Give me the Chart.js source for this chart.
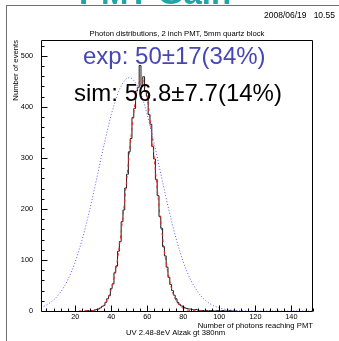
<!DOCTYPE html>
<html>
<head>
<meta charset="utf-8">
<title>Photon distributions</title>
<script src="https://cdn.jsdelivr.net/npm/chart.js@4.4.0/dist/chart.umd.min.js"></script>
<style>
  html, body { margin: 0; padding: 0; background: #fff; }
  canvas { display: block; }
</style>
</head>
<body>
<canvas id="chart" width="339" height="341"></canvas>
<script>
// Simulated photon counts, one bin per photon number
const binCenters = [25, 26, 27, 28, 29, 30, 31, 32, 33, 34, 35, 36, 37, 38, 39, 40, 41, 42, 43, 44,
  45, 46, 47, 48, 49, 50, 51, 52, 53, 54, 55, 56, 57, 58, 59, 60, 61, 62, 63, 64,
  65, 66, 67, 68, 69, 70, 71, 72, 73, 74, 75, 76, 77, 78, 79, 80, 81, 82, 83, 84,
  85, 86, 87, 88, 89, 90, 91, 92, 93, 94, 95, 96, 97, 98, 99, 100, 101, 102, 103, 104,
  105, 106, 107, 108, 109, 110];
const binCounts = [0, 0, 1, 0, 1, 1, 2, 3, 4, 6, 9, 11, 17, 24, 30, 44, 53, 75, 88, 117,
  136, 175, 198, 241, 268, 312, 338, 379, 397, 431, 438, 481, 441, 459, 430, 421, 385, 366, 322, 298,
  258, 226, 185, 162, 126, 108, 86, 66, 52, 40, 31, 24, 17, 13, 10, 8, 6, 5, 4, 4,
  3, 2, 3, 2, 1, 1, 1, 0, 1, 0, 1, 1, 0, 0, 1, 0, 0, 1, 0, 0,
  0, 1, 0, 0, 0, 0];

// Gaussian fit to the simulation (56.8 ± 7.7)
const fitX = [22, 24, 26, 28, 29, 30, 31, 32, 33, 34, 35, 36, 37, 38, 39, 40, 41, 42, 43, 44,
  45, 46, 47, 48, 49, 50, 51, 52, 53, 54, 55, 56, 57, 58, 59, 60, 61, 62, 63, 64,
  65, 66, 67, 68, 69, 70, 71, 72, 73, 74, 75, 76, 77, 78, 79, 80, 81, 82, 83, 84,
  86, 88, 90, 92];
const fitY = [0, 0.05, 0.15, 0.42, 0.67, 1.1, 1.7, 2.5, 3.8, 5.7, 8.3, 11.8, 16.7, 23.1, 31.5, 42.1, 55.4, 71.7, 91.3, 114.3,
  140.6, 170.2, 202.4, 236.8, 272.4, 308.1, 342.6, 374.6, 402.8, 425.9, 442.8, 452.6, 454.9, 449.5, 436.8, 417.4, 392.1, 362.2, 329.1, 293.9,
  258.1, 222.9, 189.2, 158.0, 129.7, 104.7, 83.1, 64.8, 49.8, 37.6, 27.9, 20.3, 14.6, 10.3, 7.1, 4.9, 3.3, 2.1, 1.4, 0.9,
  0.35, 0.12, 0.04, 0.01];

// Measured distribution (50 ± 17)
const expX = [1, 4, 8, 12, 16, 20, 24, 28, 32, 36, 40, 44, 48, 50, 52, 56, 60, 64, 68, 72,
  76, 80, 84, 88, 92, 96, 100, 104, 108, 112, 116, 120, 130, 140, 152];
const expY = [7.2, 11.8, 21.6, 37.6, 61.8, 96.3, 141.9, 197.8, 260.9, 325.6, 384.4, 429.4, 453.9, 457, 453.9, 429.4, 384.4, 325.6, 260.9, 197.8,
  141.9, 96.3, 61.8, 37.6, 21.6, 11.8, 6.0, 2.9, 1.4, 0.6, 0.24, 0.1, 0, 0, 0];

const xTickLabels = [20, 40, 60, 80, 100, 120, 140];
const yTickLabels = [0, 100, 200, 300, 400, 500];
const xMinorStep = 4;
const yMinorStep = 20;

const FONT = '"Liberation Sans", Arial, Helvetica, sans-serif';

const pairs = (xs, ys) => xs.map((v, i) => ({ x: v, y: ys[i] }));

const decorations = {
  id: 'decorations',
  beforeDraw(chart) {
    const ctx = chart.ctx;
    ctx.save();
    ctx.fillStyle = '#ffffff';
    ctx.fillRect(0, 0, chart.width, chart.height);
    ctx.restore();
  },
  afterDraw(chart) {
    const { ctx, chartArea: a, scales: { x, y } } = chart;
    ctx.save();

    // slide heading, mostly above the canvas edge
    ctx.fillStyle = '#1fa5a5';
    ctx.font = 'bold 33px ' + FONT;
    ctx.textAlign = 'left';
    ctx.textBaseline = 'alphabetic';
    ctx.fillText('PMT Gain', 79, 4);

    // canvas border
    ctx.fillStyle = '#707070';
    ctx.fillRect(7, 5, chart.width - 7, 1);
    ctx.fillRect(6, 5, 1, chart.height - 5);

    // plot frame
    const L = Math.round(a.left) + 0.5, R = Math.round(a.right) - 0.5;
    const T = Math.round(a.top) + 0.5, B = Math.round(a.bottom) + 0.5;
    ctx.strokeStyle = '#000';
    ctx.lineWidth = 1;
    ctx.beginPath();
    ctx.moveTo(L, B); ctx.lineTo(L, T); ctx.lineTo(R, T); ctx.lineTo(R, B); ctx.lineTo(L, B);
    ctx.stroke();

    // inward tick marks
    ctx.beginPath();
    for (let v = 0; v <= y.max; v += yMinorStep) {
      const py = Math.round(y.getPixelForValue(v)) + 0.5;
      const len = v % 100 === 0 ? 6 : 3;
      ctx.moveTo(L, py); ctx.lineTo(L + len, py);
    }
    for (let v = xMinorStep; v <= x.max; v += xMinorStep) {
      if (v < x.min) continue;
      const px = Math.round(x.getPixelForValue(v)) + 0.5;
      const len = v % 20 === 0 ? 6 : 3;
      ctx.moveTo(px, B); ctx.lineTo(px, B - len);
    }
    ctx.stroke();

    // texts
    ctx.fillStyle = '#000';
    ctx.textBaseline = 'middle';
    ctx.font = '8.5px ' + FONT;
    ctx.textAlign = 'left';
    ctx.fillText('2008/06/19   10.55', 264, 16);

    ctx.font = '7.7px ' + FONT;
    ctx.textAlign = 'center';
    ctx.fillText('Photon distributions, 2 inch PMT, 5mm quartz block', 177, 34);

    ctx.textAlign = 'right';
    ctx.fillText('Number of photons reaching PMT', 313, 326);
    ctx.textAlign = 'left';
    ctx.fillText('UV 2.48-8eV Alzak gt 380nm', 126, 333);

    ctx.save();
    ctx.translate(15.5, 40);
    ctx.rotate(-Math.PI / 2);
    ctx.textAlign = 'right';
    ctx.fillText('Number of events', 0, 0);
    ctx.restore();

    ctx.textBaseline = 'alphabetic';
    ctx.font = '24px ' + FONT;
    ctx.fillStyle = '#4646b6';
    ctx.fillText('exp: 50\u00b117(34%)', 83, 64);
    ctx.fillStyle = '#000';
    ctx.fillText('sim: 56.8\u00b17.7(14%)', 74, 101);

    ctx.restore();
  }
};

new Chart(document.getElementById('chart'), {
  type: 'line',
  data: {
    datasets: [
      {
        label: 'simulation',
        data: pairs(binCenters, binCounts),
        stepped: 'middle',
        borderColor: '#1a1a1a',
        borderWidth: 1,
        pointRadius: 0,
        fill: false,
        order: 2
      },
      {
        label: 'fit',
        data: pairs(fitX, fitY),
        borderColor: '#ff2020',
        borderWidth: 1,
        borderDash: [3, 3],
        pointRadius: 0,
        tension: 0,
        fill: false,
        order: 1
      },
      {
        label: 'measured',
        data: pairs(expX, expY),
        borderColor: '#5a5aff',
        borderWidth: 1,
        borderDash: [1, 2],
        pointRadius: 0,
        cubicInterpolationMode: 'monotone',
        fill: false,
        order: 0
      }
    ]
  },
  options: {
    responsive: false,
    animation: false,
    devicePixelRatio: 1,
    layout: { padding: { left: 0, top: 40, right: 26, bottom: 0 } },
    plugins: {
      legend: { display: false },
      tooltip: { enabled: false },
      title: { display: false }
    },
    scales: {
      x: {
        type: 'linear',
        min: 1,
        max: 152,
        grid: { display: false, drawTicks: false },
        border: { display: false },
        afterBuildTicks: s => { s.ticks = xTickLabels.map(v => ({ value: v })); },
        afterFit: s => { s.height = 30; },
        ticks: {
          autoSkip: false,
          maxRotation: 0,
          padding: 2,
          color: '#000',
          font: { family: FONT, size: 7.3 }
        }
      },
      y: {
        type: 'linear',
        min: 0,
        max: 531,
        grid: { display: false, drawTicks: false },
        border: { display: false },
        afterBuildTicks: s => { s.ticks = yTickLabels.map(v => ({ value: v })); },
        afterFit: s => { s.width = 41; },
        ticks: {
          autoSkip: false,
          padding: 8,
          color: '#000',
          font: { family: FONT, size: 7.3 }
        }
      }
    }
  },
  plugins: [decorations]
});
</script>
</body>
</html>
